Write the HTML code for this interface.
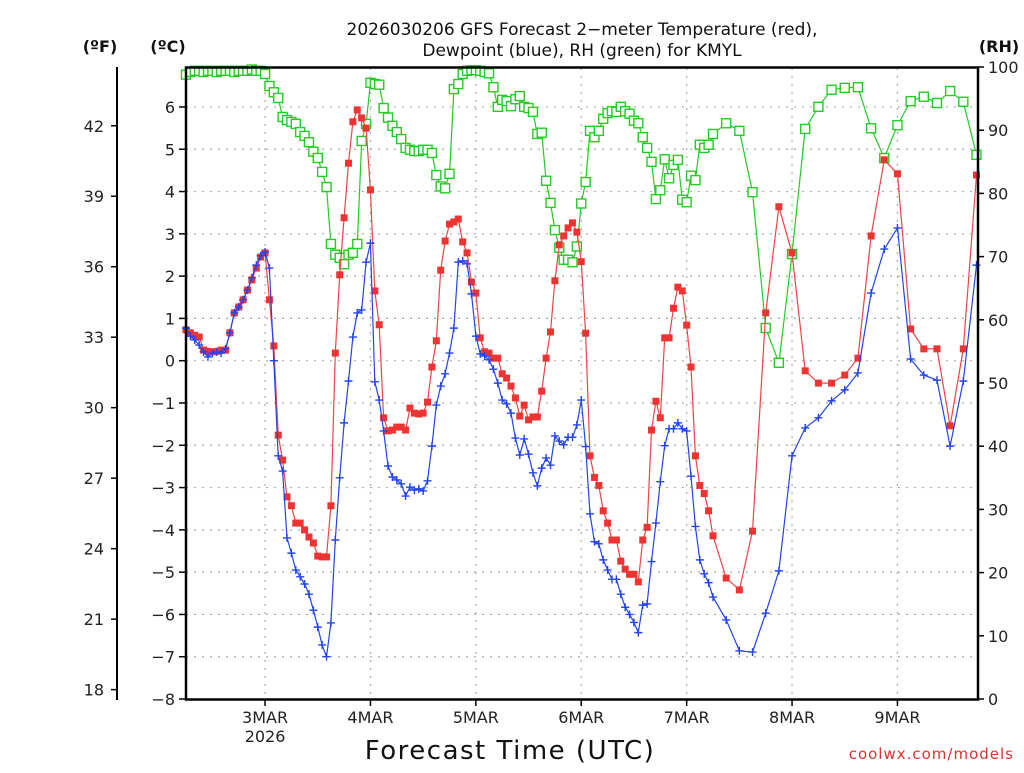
<!DOCTYPE html>
<html><head><meta charset="utf-8"><style>
body{margin:0;background:#fff;}
svg text{font-family:"DejaVu Sans","Liberation Sans",sans-serif;}
</style></head><body>
<svg id="chart" width="1024" height="768" viewBox="0 0 1024 768" xmlns="http://www.w3.org/2000/svg">
<rect width="1024" height="768" fill="#fff"/>
<text x="582" y="35" text-anchor="middle" font-size="17" fill="#111">2026030206 GFS Forecast 2−meter Temperature (red),</text>
<text x="582" y="56" text-anchor="middle" font-size="17" fill="#111">Dewpoint (blue), RH (green) for KMYL</text>
<text x="100" y="52" text-anchor="middle" font-size="16" font-weight="bold" fill="#111">(ºF)</text>
<text x="168" y="52" text-anchor="middle" font-size="16" font-weight="bold" fill="#111">(ºC)</text>
<text x="999" y="52" text-anchor="middle" font-size="16" font-weight="bold" fill="#111">(RH)</text>
<text x="510" y="759" text-anchor="middle" font-size="26" fill="#111" letter-spacing="1.5">Forecast Time (UTC)</text>
<text x="1014" y="759" text-anchor="end" font-size="15" fill="#e03030" letter-spacing="1">coolwx.com/models</text>
<g id="grid"></g>
<g id="axes"></g>
<g id="series"></g>
<rect x="186" y="67.5" width="792" height="632" fill="none" stroke="#000" stroke-width="2.5"/>
</svg>
<script>
const hourlyCount = 121;
const threeHourlyHours = [123,126,129,132,135,138,141,144,147,150,153,156,159,162,165,168,171,174,177,180];
const dayLabels = ["3MAR","4MAR","5MAR","6MAR","7MAR","8MAR","9MAR"];
const dayHours = [18,42,66,90,114,138,162];
const celsiusTicks = [6,5,4,3,2,1,0,-1,-2,-3,-4,-5,-6,-7,-8];
const fahrenheitTicks = [42,39,36,33,30,27,24,21,18];
const rhTicks = [100,90,80,70,60,50,40,30,20,10,0];
const temperature = [
0.73,0.66,0.6,0.56,0.25,0.22,0.21,0.22,0.25,0.25,
0.66,1.13,1.27,1.44,1.67,1.91,2.19,2.45,2.55,1.44,
0.35,-1.76,-2.35,-3.22,-3.43,-3.84,-3.84,-4.0,-4.17,-4.31,
-4.62,-4.64,-4.64,-3.43,0.18,2.03,3.38,4.67,5.65,5.93,
5.74,5.5,4.04,1.65,0.85,-1.35,-1.66,-1.64,-1.57,-1.57,
-1.64,-1.12,-1.24,-1.26,-1.24,-0.98,-0.15,0.47,2.14,2.83,
3.23,3.28,3.35,2.81,2.55,1.86,1.6,0.54,0.21,0.18,
0.06,0.06,-0.31,-0.41,-0.6,-0.88,-1.31,-1.05,-1.4,-1.33,
-1.33,-0.72,0.06,0.68,1.89,2.74,2.95,3.14,3.26,3.04,
2.34,0.65,-2.25,-2.76,-2.95,-3.55,-3.84,-4.24,-4.24,-4.74,
-4.93,-5.05,-5.05,-5.23,-4.24,-3.94,-1.64,-0.96,-1.35,0.54,
0.54,1.24,1.74,1.65,0.84,-0.15,-2.25,-2.95,-3.14,-3.55,
-4.14,
-5.14,-5.42,-4.03,1.13,3.64,2.55,-0.24,-0.53,-0.53,-0.34,0.06,2.95,4.75,4.42,0.75,0.28,0.28,-1.54,0.28,4.39];
const dewpoint = [
0.77,0.58,0.49,0.37,0.21,0.09,0.18,0.21,0.18,0.28,
0.66,1.13,1.27,1.44,1.67,1.96,2.26,2.48,2.57,2.19,
0.0,-2.25,-2.61,-4.19,-4.55,-4.95,-5.11,-5.28,-5.52,-5.9,
-6.3,-6.72,-7.0,-6.2,-4.24,-2.77,-1.47,-0.48,0.56,1.13,
1.2,2.33,2.78,-0.5,-0.93,-1.66,-2.49,-2.75,-2.82,-2.91,
-3.2,-2.99,-3.06,-3.03,-3.08,-2.84,-2.02,-1.05,-0.6,-0.31,
0.18,0.77,2.33,2.36,2.29,1.58,0.58,0.16,0.11,0.02,
-0.2,-0.53,-0.93,-1.02,-1.24,-1.83,-2.23,-1.85,-2.21,-2.65,
-2.96,-2.54,-2.3,-2.47,-1.78,-1.9,-1.99,-1.81,-1.81,-1.52,
-0.93,-2.03,-3.62,-4.28,-4.33,-4.71,-4.95,-5.17,-5.17,-5.52,
-5.83,-6.0,-6.19,-6.43,-5.78,-5.75,-4.75,-3.84,-2.86,-2.01,
-1.61,-1.61,-1.47,-1.61,-1.66,-2.73,-3.92,-4.71,-5.04,-5.25,
-5.59,
-6.13,-6.86,-6.89,-5.97,-4.97,-2.25,-1.59,-1.35,-0.95,-0.69,-0.29,1.6,2.64,3.14,0.04,-0.34,-0.46,-2.02,-0.48,2.26];
const humidity = [
98.8,99.2,99.4,99.4,99.2,99.4,99.4,99.2,99.4,99.4,
99.4,99.2,99.4,99.4,99.4,99.6,99.4,99.4,98.9,97.0,
96.0,95.1,92.1,91.6,91.3,91.0,89.7,89.1,88.1,86.6,
85.6,83.4,81.0,72.0,70.3,69.8,68.8,70.3,70.6,72.0,
88.3,91.0,97.5,97.3,97.2,93.5,92.0,90.7,89.7,88.6,
87.2,86.9,86.7,86.7,86.9,86.9,86.4,82.9,81.1,80.8,
83.1,96.5,97.3,98.9,99.4,99.5,99.5,99.4,99.2,99.0,
96.8,93.7,94.8,94.6,93.8,94.9,95.4,93.7,93.5,92.9,
89.4,89.6,82.0,78.5,74.2,71.4,69.5,69.5,69.1,71.6,
78.4,81.8,89.9,88.9,89.9,91.8,92.7,93.0,92.9,93.7,
93.0,92.6,91.5,91.1,88.9,87.2,85.0,79.1,80.5,85.4,
82.4,84.5,85.3,79.0,78.6,82.8,82.1,87.7,87.2,87.7,
89.4,
91.1,89.9,80.2,58.7,53.2,70.4,90.2,93.7,96.4,96.7,96.8,90.3,85.6,90.8,94.6,95.3,94.3,96.2,94.5,86.1];

const hours = [];
for (let i = 0; i < hourlyCount; i++) hours.push(i);
threeHourlyHours.forEach(h => hours.push(h));

const NS = "http://www.w3.org/2000/svg";
const X0 = 186, PX_PER_H = 105.4/24;
const xScale = h => X0 + h*PX_PER_H;
const yC = c => 360.7 - c*42.29;
const yF = f => yC((f-32)*5/9);
const yRH = r => 699 - r*6.32;

function mk(tag, attrs, parent){
  const e = document.createElementNS(NS, tag);
  for (const k in attrs) e.setAttribute(k, attrs[k]);
  parent.appendChild(e);
  return e;
}
const grid = document.getElementById('grid');
const axes = document.getElementById('axes');
const series = document.getElementById('series');

celsiusTicks.forEach(c => {
  const y = yC(c);
  if (c > -8) {
    const g = mk('line', {x1:186,x2:978,y1:y,y2:y,stroke:'#aaa','stroke-width':1.2,'stroke-dasharray':'2,6'}, grid);
    
    
  }
  const t = mk('line', {x1:179,x2:186,y1:y,y2:y,stroke:'#000','stroke-width':1.5}, axes);
  
  
  const lb = mk('text', {x:175,y:y+6,'text-anchor':'end','font-size':16,fill:'#222'}, axes);
  lb.textContent = c < 0 ? '−' + Math.abs(c) : String(c);
  
  
});
const fax = mk('line', {x1:117,x2:117,y1:67,y2:700,stroke:'#000','stroke-width':2}, axes);


fahrenheitTicks.forEach(f => {
  const y = yF(f);
  const t = mk('line', {x1:111,x2:117,y1:y,y2:y,stroke:'#000','stroke-width':1.5}, axes);
  
  
  const lb = mk('text', {x:104,y:y+6,'text-anchor':'end','font-size':16,fill:'#222'}, axes);
  lb.textContent = String(f);
  
  
});
rhTicks.forEach(r => {
  const y = yRH(r);
  const t = mk('line', {x1:978,x2:984,y1:y,y2:y,stroke:'#000','stroke-width':1.5}, axes);
  
  
  const lb = mk('text', {x:988,y:y+6,'text-anchor':'start','font-size':16,fill:'#222'}, axes);
  lb.textContent = String(r);
  
  
});
dayHours.forEach((h, i) => {
  const x = xScale(h);
  const g = mk('line', {x1:x,x2:x,y1:68,y2:699,stroke:'#aaa','stroke-width':1.2,'stroke-dasharray':'2,6'}, grid);
  
  
  const t = mk('line', {x1:x,x2:x,y1:699,y2:706,stroke:'#000','stroke-width':1.5}, axes);
  
  
  const lb = mk('text', {x:x,y:723,'text-anchor':'middle','font-size':16,fill:'#222'}, axes);
  lb.textContent = dayLabels[i];
  
  
});
const yr = mk('text', {x:xScale(18),y:742,'text-anchor':'middle','font-size':16,fill:'#222'}, axes);
yr.textContent = '2026';



function drawLine(vals, ys, color, name){
  const pts = vals.map((v,i) => xScale(hours[i]).toFixed(1)+','+ys(v).toFixed(1)).join(' ');
  const p = mk('polyline', {points:pts,fill:'none',stroke:color,'stroke-width':1.2}, series);
  
  
}
// RH
drawLine(humidity, yRH, '#22cc22', 'rh-line');
humidity.forEach((v,i) => {
  const m = mk('rect', {x:xScale(hours[i])-4.5,y:yRH(v)-4.5,width:9,height:9,fill:'#fff',stroke:'#22cc22','stroke-width':1.4}, series);
  
  
});
// Temperature
drawLine(temperature, yC, '#ee4444', 'temperature-line');
temperature.forEach((v,i) => {
  const m = mk('rect', {x:xScale(hours[i])-3.5,y:yC(v)-3.5,width:7,height:7,fill:'#ee3333'}, series);
  
  
});
// Dewpoint
drawLine(dewpoint, yC, '#2244ee', 'dewpoint-line');
dewpoint.forEach((v,i) => {
  const x = xScale(hours[i]), y = yC(v);
  const m = mk('path', {d:`M${x-4},${y}H${x+4}M${x},${y-4}V${y+4}`,stroke:'#2244ee','stroke-width':1.4,fill:'none'}, series);
  
  
});
</script>
</body></html>
